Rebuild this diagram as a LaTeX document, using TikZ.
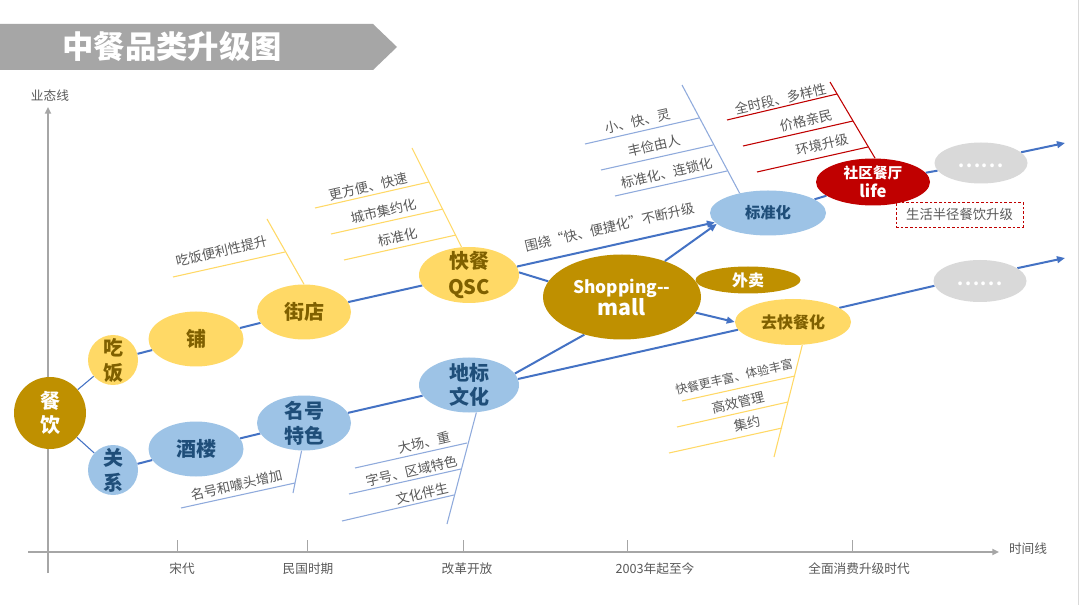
\documentclass[tikz,border=0pt]{standalone}
\usepackage{fontspec}
\setmainfont{Noto Sans CJK SC}
\usetikzlibrary{shapes.geometric,arrows.meta}
\definecolor{gold}{HTML}{BF9000}
\definecolor{yel}{HTML}{FFD966}
\definecolor{lblue}{HTML}{9DC3E6}
\definecolor{dblue}{HTML}{1F4E79}
\definecolor{dbrown}{HTML}{7F6000}
\definecolor{dred}{HTML}{C00000}
\definecolor{lgray}{HTML}{D9D9D9}
\definecolor{lineblue}{HTML}{4472C4}
\definecolor{thinblue}{HTML}{8FAADC}
\definecolor{txtgray}{HTML}{595959}
\definecolor{axgray}{HTML}{A6A6A6}
\newcommand\mydots{.\kern1.3pt.\kern1.3pt.\kern1.3pt.\kern1.3pt.\kern1.3pt.}
\pgfdeclarelayer{bg}
\pgfsetlayers{bg,main}
\tikzset{
  ell/.style n args={3}{ellipse, fill=#1, draw=none, minimum width=#2, minimum height=#3, inner sep=0pt},
  circ/.style n args={2}{circle, fill=#1, draw=none, minimum size=#2, inner sep=0pt},
  ntxt/.style n args={3}{text=#1, font=\bfseries\fontsize{#2}{#3}\selectfont, align=center, inner sep=0pt},
  main/.style={draw=lineblue, line width=1.5pt},
  thinmain/.style={draw=lineblue, line width=0.8pt},
  arr/.style={main, -{Triangle[length=6pt,width=5pt]}},
  yline/.style={draw=yel, line width=0.8pt},
  bline/.style={draw=thinblue, line width=0.8pt},
  rline/.style={draw=dred, line width=0.8pt},
  note/.style={text=txtgray, font=\fontsize{10}{12}\selectfont, rotate=13, inner sep=0pt},
  axlbl/.style={text=txtgray, font=\fontsize{9.5}{11}\selectfont, inner sep=0pt},
  axis/.style={draw=axgray, line width=1.3pt, -{Triangle[length=5pt,width=4.5pt]}},
}
\begin{document}
\begin{tikzpicture}[x=0.75pt,y=-0.75pt]
\useasboundingbox (0,0) rectangle (1080,605);
\begin{pgfonlayer}{bg}
\fill[white] (0,0) rectangle (1080,605);
\end{pgfonlayer}
\draw[lgray, line width=1.2pt] (1078.5,0) -- (1078.5,605);

% title banner
\fill[axgray] (0,24) -- (373,24) -- (397,47) -- (373,70) -- (0,70) -- cycle;
\node[text=white, font=\bfseries\fontsize{23.5}{26}\selectfont, inner sep=0pt] (title) at (172,47) {中餐品类升级图};

% axes
\coordinate (ybot) at (48,573); \coordinate (ytop) at (48,107);
\coordinate (xl) at (28,552); \coordinate (xr) at (999,552);
\draw[axis] (ybot) -- (ytop);
\draw[axis] (xl) -- (xr);
\foreach \x in {177,307,463,627,852} \draw[axgray, line width=0.7pt] (\x,540) -- (\x,552);
\node[axlbl] (ylab) at (50,96) {业态线};
\node[axlbl] (xlab) at (1028,549) {时间线};
\node[axlbl] (t1) at (182,569) {宋代};
\node[axlbl] (t2) at (308,569) {民国时期};
\node[axlbl] (t3) at (467,569) {改革开放};
\node[axlbl] (t4) at (655,569) {2003年起至今};
\node[axlbl] (t5) at (859,569) {全面消费升级时代};

% nodes
\node[circ={gold}{54pt}] (cy) at (50,413) {};
\node[ntxt={white}{15}{18}] at (cy) {餐\\饮};
\node[circ={yel}{37.5pt}] (ch) at (113,360) {};
\node[ntxt={dbrown}{15}{18.75}] at (ch) {吃\\饭};
\node[circ={lblue}{37.5pt}] (gx) at (113,470) {};
\node[ntxt={dblue}{15}{18.75}] at (gx) {关\\系};
\node[ell={yel}{71.25pt}{41.25pt}] (pu) at (196,339) {};
\node[ntxt={dbrown}{15}{18}] at (pu) {铺};
\node[ell={lblue}{71.25pt}{41.25pt}] (jl) at (196,449) {};
\node[ntxt={dblue}{15}{18}] at (jl) {酒楼};
\node[ell={yel}{70.5pt}{41.25pt}] (jd) at (304,312) {};
\node[ntxt={dbrown}{15}{18}] at (jd) {街店};
\node[ell={lblue}{70.5pt}{41.25pt}] (mh) at (304,423) {};
\node[ntxt={dblue}{15}{18.75}] at (mh) {名号\\特色};
\node[ell={yel}{75pt}{42pt}] (kc) at (469,275) {};
\node[ntxt={dbrown}{15}{19.5}] at (kc) {快餐\\QSC};
\node[ell={lblue}{75pt}{41.25pt}] (db) at (469,385) {};
\node[ntxt={dblue}{15}{18}] at (db) {地标\\文化};
\node[ell={gold}{118.5pt}{63.75pt}] (mall) at (622,297) {};
\node[ntxt={white}{13}{16.5}] at (mall) {Shopping-{}-\\{\fontsize{16}{16}\selectfont mall}};
\node[ell={gold}{78.75pt}{20.25pt}] (wm) at (748,280) {};
\node[ntxt={white}{12}{14}] at (wm) {外卖};
\node[ell={lblue}{87pt}{33.75pt}] (bz) at (768,213) {};
\node[ntxt={dblue}{11.5}{14}] at (bz) {标准化};
\node[ell={yel}{87pt}{34.5pt}] (qk) at (793,322) {};
\node[ntxt={dbrown}{12}{14}] at (qk) {去快餐化};
\node[ell={dred}{85.5pt}{35.25pt}] (sq) at (873,182) {};
\node[ntxt={white}{11}{14}] at (sq) {社区餐厅\\{\fontsize{12.5}{14}\selectfont life}};
\node[ell={lgray}{69.75pt}{30.75pt}] (d1) at (981,163) {};
\node[ntxt={white}{13}{14}] at ([yshift=-2]d1.center) {\mydots};
\node[ell={lgray}{69.75pt}{31.5pt}] (d2) at (980,281) {};
\node[ntxt={white}{13}{14}] at ([yshift=-2]d2.center) {\mydots};
\node[draw=dred, dashed, dash pattern=on 2pt off 1.5pt, line width=0.7pt, minimum width=95.25pt, minimum height=18.75pt, inner sep=0pt, text=txtgray, font=\fontsize{10}{12}\selectfont] (box) at (959.5,214.5) {生活半径餐饮升级};

\coordinate (e1) at (1065,143);
\coordinate (e2) at (1065,258);

% connectors
\begin{pgfonlayer}{bg}
\draw[thinmain] (cy) -- (ch);
\draw[thinmain] (cy) -- (gx);
\draw[main] (ch) -- (pu);
\draw[main] (pu) -- (jd);
\draw[main] (jd) -- (kc);
\draw[main] (gx) -- (jl);
\draw[main] (jl) -- (mh);
\draw[main] (mh) -- (db);
\draw[main] (kc.3) -- (mall.168);
\draw[main] (db.14) -- (mall.225);
\draw[main] (db.7) -- (qk.188);
\draw[main] (qk.17) -- (d2.186);
\draw[arr] (d2.19) -- (e2);
\draw[main] (bz) -- (sq);
\draw[main] (sq) -- (d1);
\draw[arr] (d1.15) -- (e1);
\end{pgfonlayer}
\draw[arr] (kc.10) -- (bz.190);
\draw[arr] (mall.40) -- (bz.192);
\draw[arr] (mall.-12) -- (qk.180);

% fishbone: jiedian
\coordinate (f1t) at (267,219);
\draw[yline] (f1t) -- (jd.north);
\coordinate (f1a) at (173,277); \coordinate (f1b) at (285,252);
\draw[yline] (f1a) -- (f1b);
\node[note] (n1) at (222,251) {吃饭便利性提升};

% fishbone: kuaican
\coordinate (f2t) at (412,148);
\draw[yline] (f2t) -- (kc.105);
\coordinate (f2a) at (315,208); \coordinate (f2b) at (429,182);
\coordinate (f2c) at (331,234); \coordinate (f2d) at (443,209);
\coordinate (f2e) at (344,260); \coordinate (f2f) at (456,235);
\draw[yline] (f2a) -- (f2b);
\draw[yline] (f2c) -- (f2d);
\draw[yline] (f2e) -- (f2f);
\node[note] (n2) at (368,187) {更方便、快速};
\node[note] (n3) at (384,211) {城市集约化};
\node[note] (n4) at (398,237) {标准化};

% fishbone: minghao
\coordinate (f3b) at (293,493);
\draw[bline] (mh.265) -- (f3b);
\coordinate (f3c) at (181,508); \coordinate (f3d) at (295,483);
\draw[bline] (f3c) -- (f3d);
\node[note] (n5) at (237,485) {名号和噱头增加};

% fishbone: dibiao
\coordinate (f4b) at (447,524);
\draw[bline] (db.285) -- (f4b);
\coordinate (f4a1) at (355,468); \coordinate (f4a2) at (467,443);
\coordinate (f4b1) at (349,494); \coordinate (f4b2) at (461,469);
\coordinate (f4c1) at (342,521); \coordinate (f4c2) at (454,495);
\draw[bline] (f4a1) -- (f4a2);
\draw[bline] (f4b1) -- (f4b2);
\draw[bline] (f4c1) -- (f4c2);
\node[note] (n6) at (424,443) {大场、重};
\node[note] (n7) at (412,471) {字号、区域特色};
\node[note] (n8) at (422,494) {文化伴生};

% fishbone: biaozhunhua
\coordinate (f5t) at (682,85);
\draw[bline] (f5t) -- (bz.145);
\coordinate (f5a1) at (585,144); \coordinate (f5a2) at (699,118);
\coordinate (f5b1) at (601,170); \coordinate (f5b2) at (713,145);
\coordinate (f5c1) at (615,196); \coordinate (f5c2) at (727,171);
\draw[bline] (f5a1) -- (f5a2);
\draw[bline] (f5b1) -- (f5b2);
\draw[bline] (f5c1) -- (f5c2);
\node[note] (n9) at (638,121) {小、快、灵};
\node[note] (n10) at (654,146) {丰俭由人};
\node[note] (n11) at (667,173) {标准化、连锁化};

% fishbone: shequ
\coordinate (f6t) at (830,82);
\draw[rline] (f6t) -- (sq.85);
\coordinate (f6a1) at (727,120); \coordinate (f6a2) at (837,94);
\coordinate (f6b1) at (743,146); \coordinate (f6b2) at (853,121);
\coordinate (f6c1) at (757,172); \coordinate (f6c2) at (868,147);
\draw[rline] (f6a1) -- (f6a2);
\draw[rline] (f6b1) -- (f6b2);
\draw[rline] (f6c1) -- (f6c2);
\node[note] (n12) at (781,99) {全时段、多样性};
\node[note] (n13) at (806,121) {价格亲民};
\node[note] (n14) at (822,145) {环境升级};

% fishbone: qukuaicanhua
\coordinate (f7b) at (774,457);
\draw[yline] (qk.292) -- (f7b);
\coordinate (f7a1) at (682,401); \coordinate (f7a2) at (795,376);
\coordinate (f7b1) at (677,427); \coordinate (f7b2) at (788,402);
\coordinate (f7c1) at (669,453); \coordinate (f7c2) at (782,428);
\draw[yline] (f7a1) -- (f7a2);
\draw[yline] (f7b1) -- (f7b2);
\draw[yline] (f7c1) -- (f7c2);
\node[note, font=\fontsize{9}{11}\selectfont] (n15) at (734,377) {快餐更丰富、体验丰富};
\node[note] (n16) at (738,403) {高效管理};
\node[note] (n17) at (747,424) {集约};

% arrow label
\node[note] (n18) at (610,227) {围绕“快、便捷化”不断升级};
\end{tikzpicture}
\end{document}
